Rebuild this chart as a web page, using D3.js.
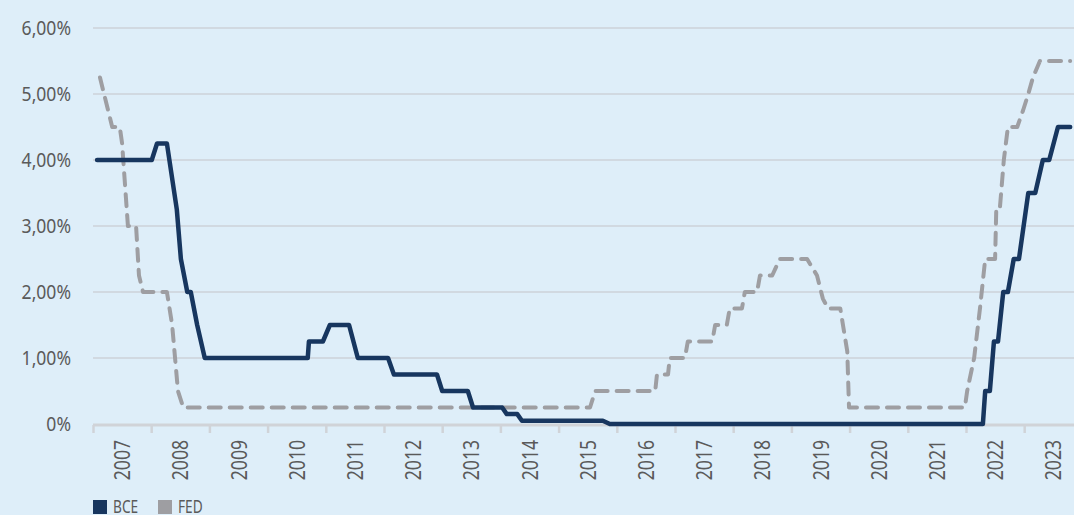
<!DOCTYPE html>
<html>
<head>
<meta charset="utf-8">
<script src="https://cdn.jsdelivr.net/npm/d3@7/dist/d3.min.js"></script>
<style>
  body { margin: 0; background: #deeef9; }
  svg { display: block; }
  text { font-family: "Noto Sans", "Liberation Sans", sans-serif; fill: #5a5a5a; }
</style>
</head>
<body>
<script>
// years on the axis, one band each
var years = [2007, 2008, 2009, 2010, 2011, 2012, 2013, 2014, 2015, 2016, 2017, 2018, 2019, 2020, 2021, 2022, 2023];
var yTicks = [0, 1, 2, 3, 4, 5, 6];
var yTickLabels = ["0%", "1,00%", "2,00%", "3,00%", "4,00%", "5,00%", "6,00%"];
var seriesNames = ["BCE", "FED"];

// BCE rate (%), time as decimal year
var bceTime = [2007.07, 2008.01, 2008.10, 2008.27, 2008.44, 2008.51, 2008.62, 2008.68, 2008.79, 2008.92,
  2010.69, 2010.71, 2010.95, 2011.07, 2011.40, 2011.55, 2012.07, 2012.17, 2012.91, 2013.00,
  2013.44, 2013.53, 2014.03, 2014.11, 2014.29, 2014.37, 2015.76, 2015.88, 2022.29, 2022.33,
  2022.41, 2022.48, 2022.55, 2022.64, 2022.72, 2022.82, 2022.91, 2023.07, 2023.19, 2023.32,
  2023.43, 2023.58, 2023.79];
var bceRate = [4.00, 4.00, 4.25, 4.25, 3.25, 2.50, 2.00, 2.00, 1.50, 1.00,
  1.00, 1.25, 1.25, 1.50, 1.50, 1.00, 1.00, 0.75, 0.75, 0.50,
  0.50, 0.25, 0.25, 0.15, 0.15, 0.05, 0.05, 0.00, 0.00, 0.50,
  0.50, 1.25, 1.25, 2.00, 2.00, 2.50, 2.50, 3.50, 3.50, 4.00,
  4.00, 4.50, 4.50];

// FED rate (%)
var fedTime = [2007.12, 2007.33, 2007.46, 2007.50, 2007.60, 2007.74, 2007.79, 2007.86, 2008.27, 2008.36,
  2008.46, 2008.55, 2015.54, 2015.63, 2016.66, 2016.69, 2016.88, 2016.91, 2017.17, 2017.22,
  2017.64, 2017.69, 2017.89, 2017.94, 2018.15, 2018.20, 2018.41, 2018.46, 2018.67, 2018.80,
  2019.27, 2019.44, 2019.54, 2019.63, 2019.84, 2019.96, 2019.99, 2021.98, 2022.02, 2022.14,
  2022.24, 2022.33, 2022.50, 2022.52, 2022.58, 2022.65, 2022.72, 2022.88, 2022.98, 2023.07,
  2023.15, 2023.27, 2023.79];
var fedRate = [5.25, 4.50, 4.50, 4.25, 3.00, 3.00, 2.25, 2.00, 2.00, 1.50,
  0.50, 0.25, 0.25, 0.50, 0.50, 0.75, 0.75, 1.00, 1.00, 1.25,
  1.25, 1.50, 1.50, 1.75, 1.75, 2.00, 2.00, 2.25, 2.25, 2.50,
  2.50, 2.25, 1.90, 1.75, 1.75, 1.10, 0.25, 0.25, 0.50, 1.00,
  1.75, 2.50, 2.50, 3.25, 3.25, 4.00, 4.50, 4.50, 4.75, 5.00,
  5.25, 5.50, 5.50];

var W = 1074, H = 515;
var margin = {top: 28, left: 93};
var bandW = 58.2;
var height = 396;

var svg = d3.select('body').append('svg')
  .attr('width', W)
  .attr('height', H);

var x = d3.scaleLinear()
  .domain([2007, 2024])
  .range([margin.left, margin.left + bandW * 17]);

var y = d3.scaleLinear()
  .domain([0, 6])
  .range([margin.top + height, margin.top]);

// horizontal grid
svg.append('g').selectAll('line')
  .data(yTicks.slice(1))
  .enter().append('line')
  .attr('x1', margin.left)
  .attr('x2', W)
  .attr('y1', function(d) { return y(d); })
  .attr('y2', function(d) { return y(d); })
  .attr('stroke', '#cdd2d9')
  .attr('stroke-width', 1.3);

// y labels (font squeezed a bit, the original face is a condensed one)
svg.append('g').selectAll('g')
  .data(yTicks)
  .enter().append('g')
  .attr('transform', function(d) { return 'translate(71,' + y(d) + ')'; })
  .append('text')
  .attr('transform', 'scale(0.9,1)')
  .attr('dy', '0.36em')
  .attr('text-anchor', 'end')
  .style('font-size', '19.5px')
  .text(function(d, i) { return yTickLabels[i]; });

// x axis
var xAxis = d3.axisBottom(x)
  .tickValues(years)
  .tickSize(8)
  .tickSizeOuter(0)
  .tickFormat('');

var gx = svg.append('g')
  .attr('transform', 'translate(0,' + (margin.top + height + 1) + ')')
  .call(xAxis);
gx.select('.domain')
  .attr('d', 'M' + margin.left + ',0H' + W)
  .attr('stroke', '#d0d3d8')
  .attr('stroke-width', 3);
gx.selectAll('.tick line')
  .attr('stroke', '#d0d3d8')
  .attr('stroke-width', 2.5);

var yearG = svg.append('g').selectAll('g')
  .data(years)
  .enter().append('g')
  .attr('transform', function(d) {
    return 'translate(' + (x(d + 0.5) + 8) + ',440) rotate(-90)';
  });
yearG.append('text')
  .attr('transform', 'scale(0.8,1)')
  .attr('text-anchor', 'end')
  .style('font-size', '22px')
  .text(function(d) { return d; });

// lines
var line = d3.line()
  .x(function(d) { return x(d[0]); })
  .y(function(d) { return y(d[1]); });

var fed = fedTime.map(function(t, i) { return [t, fedRate[i]]; });
var bce = bceTime.map(function(t, i) { return [t, bceRate[i]]; });

svg.append('path')
  .datum(fed)
  .attr('d', line)
  .attr('fill', 'none')
  .attr('stroke', '#9e9ea2')
  .attr('stroke-width', 4)
  .attr('stroke-linejoin', 'round')
  .attr('stroke-linecap', 'round')
  .attr('stroke-dasharray', '12,9');

svg.append('path')
  .datum(bce)
  .attr('d', line)
  .attr('fill', 'none')
  .attr('stroke', '#17365f')
  .attr('stroke-width', 4.5)
  .attr('stroke-linejoin', 'round')
  .attr('stroke-linecap', 'round');

// legend
var colors = ['#17365f', '#9e9ea2'];
var lx = [93, 158];
var legend = svg.append('g');
legend.selectAll('rect')
  .data(seriesNames)
  .enter().append('rect')
  .attr('x', function(d, i) { return lx[i]; })
  .attr('y', 500)
  .attr('width', 14)
  .attr('height', 14)
  .attr('fill', function(d, i) { return colors[i]; });
legend.selectAll('g')
  .data(seriesNames)
  .enter().append('g')
  .attr('transform', function(d, i) { return 'translate(' + (lx[i] + 20) + ',513)'; })
  .append('text')
  .attr('transform', 'scale(0.72,1)')
  .style('font-size', '19px')
  .text(function(d) { return d; });
</script>
</body>
</html>
